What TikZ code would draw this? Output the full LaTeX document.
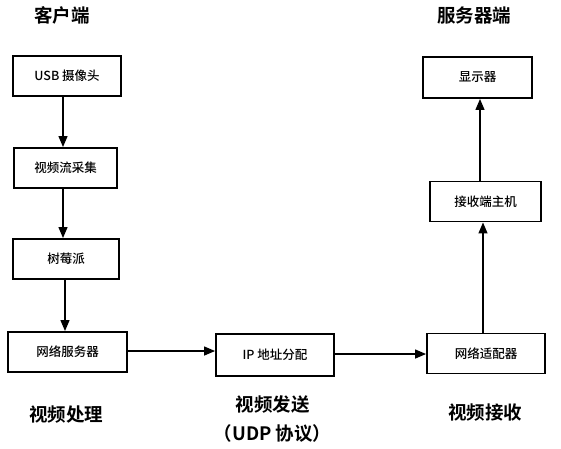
\documentclass[tikz,border=0pt]{standalone}
\usepackage{fontspec}
\setmainfont{Noto Sans CJK SC}
\newfontfamily\cjkb{Noto Sans CJK SC Bold}
\newfontfamily\cjkm{Noto Sans CJK SC Medium}
\usetikzlibrary{arrows.meta}
\begin{document}
\begin{tikzpicture}[x=1pt,y=-1pt,
  boxst/.style={draw,line width=1.9pt,minimum height=40pt,inner sep=0pt,font=\cjkm\fontsize{12.5}{14}\selectfont},
  arr/.style={line width=1.3pt,-{Triangle[length=11pt,width=9pt]}},
  title/.style={font=\cjkb\fontsize{18.5}{22}\selectfont,inner sep=0pt}]
\useasboundingbox (0,0) rectangle (561,448);
\node[boxst,minimum width=108pt] (usb) at (67,76) {USB 摄像头};
\node[boxst,minimum width=103pt] (cap) at (65.5,168) {视频流采集};
\node[boxst,minimum width=106pt] (pi) at (66,259) {树莓派};
\node[boxst,minimum width=119pt] (srv) at (67.5,352) {网络服务器};
\node[boxst,minimum width=118pt,minimum height=42pt] (ip) at (275,355) {IP 地址分配};
\node[boxst,minimum width=118pt] (ad) at (486,353.5) {网络适配器};
\node[boxst,minimum width=111pt] (host) at (485.5,201.5) {接收端主机};
\node[boxst,minimum width=109pt,minimum height=41pt] (disp) at (477.5,77.5) {显示器};
\draw[arr] (usb.south -| 63,0) -- (cap.north -| 63,0);
\draw[arr] (cap.south -| 63,0) -- (pi.north -| 63,0);
\draw[arr] (pi.south -| 65,0) -- (srv.north -| 65,0);
\draw[arr] (srv.east |- 0,351) -- (ip.west |- 0,351);
\draw[arr] (ip.east |- 0,354) -- (ad.west |- 0,354);
\draw[arr] (ad.north -| 483,0) -- (host.south -| 483,0);
\draw[arr] (host.north -| 480,0) -- (disp.south -| 480,0);
\node[title] (t1) at (62,15) {客户端};
\node[title] (t2) at (474,15) {服务器端};
\node[title] (t3) at (66,415) {视频处理};
\node[title] (t4) at (272.5,404) {视频发送};
\node[title] (t5) at (272.5,433) {（UDP 协议）};
\node[title] (t6) at (485,413) {视频接收};
\end{tikzpicture}
\end{document}
